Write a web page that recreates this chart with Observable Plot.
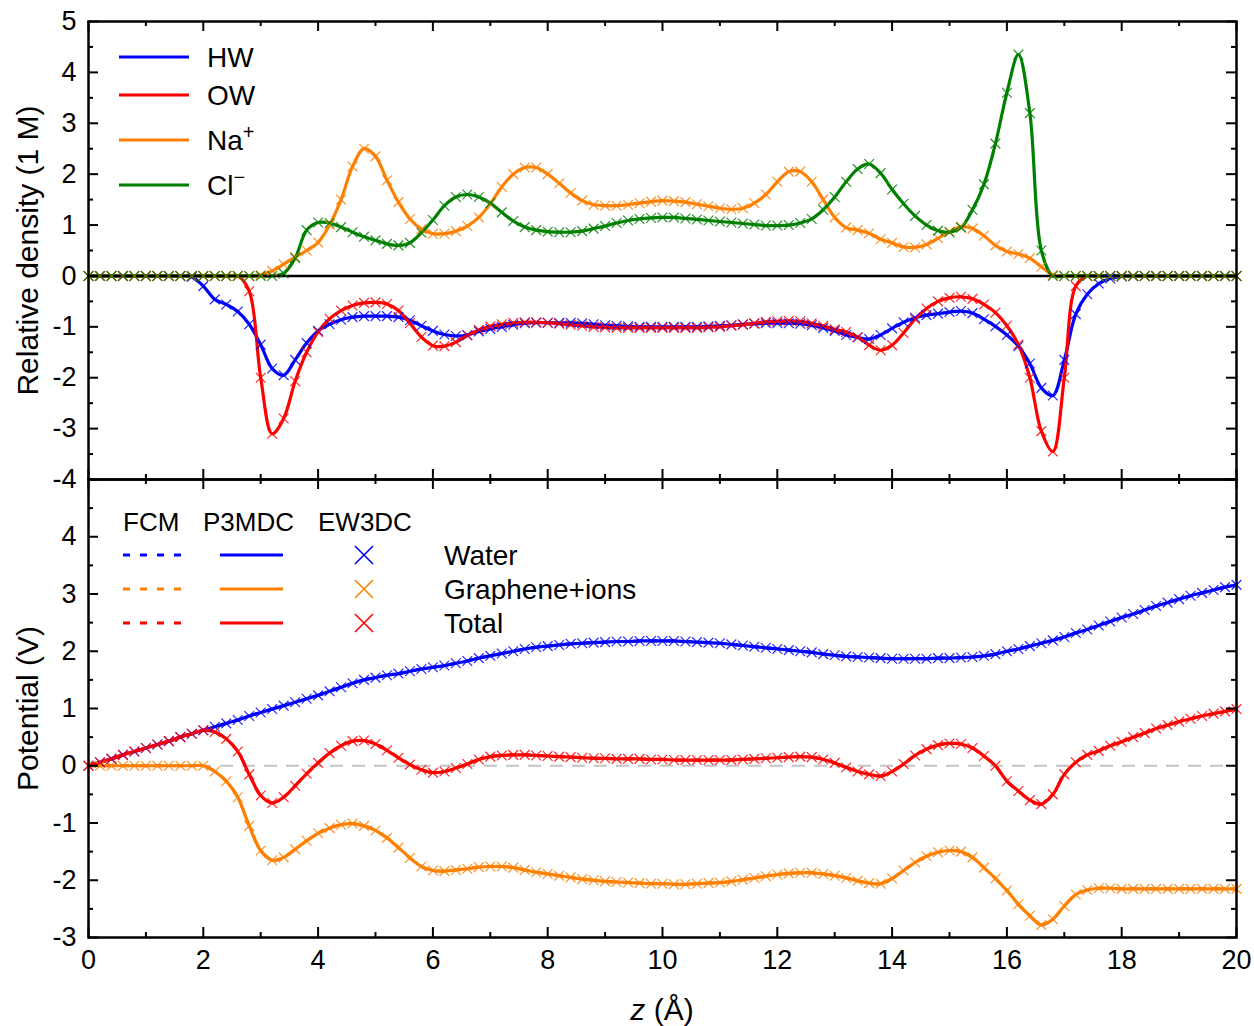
<!DOCTYPE html>
<html><head><meta charset="utf-8">
<script src="https://cdn.jsdelivr.net/npm/d3@7"></script>
<script src="https://cdn.jsdelivr.net/npm/@observablehq/plot@0.6"></script>
<style>
body{margin:0;background:#fff;}
#wrap{position:relative;width:1254px;height:1026px;font-family:"Liberation Sans",Arial,sans-serif;overflow:hidden;}
#xtitle{position:absolute;top:993px;left:662px;transform:translateX(-50%);font-size:30px;white-space:nowrap;line-height:34px;}
#legend{position:absolute;left:0;top:0;pointer-events:none;}
</style></head><body><div id="wrap"><div id="xtitle"><i>z</i> (Å)</div></div>
<script>
// ---- grid of z positions (Å) ----
const z = [0,0.2,0.4,0.6,0.8,1,1.2,1.4,1.6,1.8,2,2.2,2.4,2.6,2.8,3,3.2,3.4,3.6,3.8,4,4.2,4.4,4.6,4.8,5,5.2,5.4,5.6,5.8,6,6.2,6.4,6.6,6.8,7,7.2,7.4,7.6,7.8,8,8.2,8.4,8.6,8.8,9,9.2,9.4,9.6,9.8,10,10.2,10.4,10.6,10.8,11,11.2,11.4,11.6,11.8,12,12.2,12.4,12.6,12.8,13,13.2,13.4,13.6,13.8,14,14.2,14.4,14.6,14.8,15,15.2,15.4,15.6,15.8,16,16.2,16.4,16.6,16.8,17,17.2,17.4,17.6,17.8,18,18.2,18.4,18.6,18.8,19,19.2,19.4,19.6,19.8,20];

// ---- top panel: relative density (1 M) ----
const densHW = [0,0,0,0,0,0,0,0,0,-0.02,-0.2,-0.46,-0.56,-0.7,-0.95,-1.35,-1.82,-1.95,-1.65,-1.32,-1.08,-0.95,-0.86,-0.81,-0.79,-0.79,-0.79,-0.81,-0.87,-0.98,-1.08,-1.15,-1.18,-1.16,-1.09,-1.04,-1.0,-0.96,-0.93,-0.92,-0.92,-0.92,-0.92,-0.93,-0.95,-0.97,-0.98,-0.99,-1.0,-1.0,-1.0,-1.0,-1.0,-1.0,-0.99,-0.98,-0.97,-0.95,-0.94,-0.93,-0.93,-0.93,-0.94,-0.97,-1.02,-1.08,-1.16,-1.21,-1.24,-1.16,-1.03,-0.91,-0.82,-0.77,-0.74,-0.71,-0.69,-0.73,-0.85,-0.99,-1.16,-1.38,-1.72,-2.2,-2.35,-1.65,-0.75,-0.36,-0.15,-0.05,-0.01,0,0,0,0,0,0,0,0,0,0];
const densOW = [0,0,0,0,0,0,0,0,0,0,0,0,0,0,-0.3,-2.0,-3.1,-2.8,-2.07,-1.5,-1.1,-0.84,-0.68,-0.58,-0.53,-0.52,-0.55,-0.68,-0.93,-1.2,-1.37,-1.38,-1.3,-1.17,-1.06,-0.99,-0.95,-0.92,-0.91,-0.91,-0.92,-0.94,-0.96,-0.98,-1.0,-1.01,-1.02,-1.02,-1.02,-1.02,-1.02,-1.02,-1.02,-1.02,-1.01,-1.0,-0.98,-0.96,-0.93,-0.9,-0.89,-0.88,-0.89,-0.93,-0.98,-1.05,-1.1,-1.2,-1.36,-1.46,-1.36,-1.12,-0.85,-0.64,-0.5,-0.43,-0.41,-0.45,-0.56,-0.72,-0.98,-1.35,-2.0,-3.05,-3.45,-2.0,-0.2,0,0,0,0,0,0,0,0,0,0,0,0,0,0];
const densNa = [0,0,0,0,0,0,0,0,0,0,0,0,0,0,0,0.02,0.1,0.23,0.37,0.5,0.66,1.0,1.5,2.15,2.5,2.35,1.88,1.45,1.12,0.92,0.83,0.83,0.88,0.98,1.15,1.42,1.75,2.0,2.13,2.13,2.0,1.82,1.63,1.48,1.4,1.38,1.38,1.4,1.43,1.46,1.48,1.47,1.45,1.41,1.37,1.33,1.31,1.33,1.43,1.6,1.85,2.05,2.05,1.85,1.5,1.15,0.95,0.9,0.84,0.72,0.65,0.57,0.56,0.62,0.74,0.87,0.97,0.93,0.79,0.6,0.48,0.43,0.35,0.18,0.02,0,0,0,0,0,0,0,0,0,0,0,0,0,0,0,0];
const densCl = [0,0,0,0,0,0,0,0,0,0,0,0,0,0,0,0,0,0.05,0.35,0.9,1.05,1.04,0.96,0.86,0.77,0.7,0.63,0.6,0.65,0.85,1.1,1.38,1.55,1.6,1.55,1.43,1.25,1.08,0.96,0.9,0.87,0.86,0.86,0.88,0.93,0.98,1.04,1.09,1.12,1.14,1.15,1.15,1.13,1.11,1.09,1.07,1.05,1.03,1.01,0.99,0.99,1.0,1.04,1.12,1.3,1.55,1.85,2.1,2.2,2.02,1.7,1.42,1.18,1.0,0.89,0.86,0.95,1.3,1.8,2.6,3.6,4.35,3.2,0.5,0,0,0,0,0,0,0,0,0,0,0,0,0,0,0,0,0];

// ---- bottom panel: potential (V) ----
const potWater = [0,0.06,0.12,0.19,0.25,0.31,0.37,0.43,0.5,0.56,0.62,0.68,0.74,0.8,0.87,0.93,0.99,1.05,1.11,1.17,1.23,1.3,1.37,1.44,1.5,1.54,1.58,1.61,1.65,1.69,1.72,1.75,1.79,1.83,1.88,1.92,1.96,2.0,2.04,2.07,2.09,2.11,2.13,2.14,2.15,2.16,2.17,2.17,2.18,2.18,2.18,2.18,2.17,2.16,2.15,2.14,2.12,2.1,2.08,2.06,2.04,2.02,2.0,1.98,1.95,1.93,1.91,1.9,1.89,1.88,1.87,1.87,1.87,1.87,1.88,1.88,1.89,1.9,1.92,1.95,2.0,2.04,2.09,2.14,2.19,2.25,2.32,2.38,2.45,2.52,2.59,2.65,2.72,2.79,2.85,2.91,2.97,3.02,3.07,3.12,3.16];
const potGraphIons = [0,0,0,0,0,0,0,0,0,0,0,-0.1,-0.27,-0.55,-1.05,-1.48,-1.65,-1.6,-1.46,-1.31,-1.18,-1.09,-1.03,-1.01,-1.05,-1.13,-1.26,-1.43,-1.61,-1.76,-1.83,-1.84,-1.82,-1.8,-1.77,-1.76,-1.76,-1.78,-1.82,-1.86,-1.89,-1.92,-1.95,-1.98,-2.0,-2.02,-2.03,-2.04,-2.05,-2.06,-2.06,-2.07,-2.07,-2.06,-2.05,-2.04,-2.02,-1.99,-1.96,-1.93,-1.9,-1.88,-1.87,-1.87,-1.89,-1.92,-1.96,-2.01,-2.05,-2.06,-1.97,-1.83,-1.69,-1.58,-1.51,-1.48,-1.5,-1.6,-1.78,-1.97,-2.18,-2.42,-2.62,-2.78,-2.68,-2.45,-2.25,-2.17,-2.14,-2.14,-2.15,-2.15,-2.15,-2.15,-2.15,-2.15,-2.15,-2.15,-2.15,-2.15,-2.15];
const potTotal = [0,0.06,0.12,0.19,0.25,0.31,0.37,0.43,0.5,0.56,0.62,0.59,0.47,0.25,-0.15,-0.52,-0.65,-0.55,-0.35,-0.14,0.05,0.22,0.35,0.43,0.44,0.38,0.27,0.14,0.02,-0.07,-0.12,-0.1,-0.04,0.03,0.11,0.16,0.18,0.19,0.19,0.18,0.17,0.16,0.15,0.14,0.13,0.13,0.12,0.12,0.12,0.11,0.11,0.1,0.1,0.1,0.1,0.1,0.1,0.11,0.12,0.13,0.14,0.15,0.16,0.15,0.11,0.05,-0.03,-0.1,-0.15,-0.18,-0.1,0.03,0.18,0.29,0.36,0.39,0.38,0.31,0.17,0.0,-0.27,-0.44,-0.6,-0.67,-0.5,-0.15,0.06,0.19,0.26,0.35,0.42,0.5,0.57,0.65,0.71,0.77,0.82,0.87,0.91,0.95,0.99];

// ---- ticks ----
const xMajor = [0,2,4,6,8,10,12,14,16,18,20];
const xMinor = [1,3,5,7,9,11,13,15,17,19];
const yTopMajor = [-4,-3,-2,-1,0,1,2,3,4,5];
const yTopMinor = [-3.5,-2.5,-1.5,-0.5,0.5,1.5,2.5,3.5,4.5];
const yBotMajor = [-3,-2,-1,0,1,2,3,4,5];
const yBotLabels = [-3,-2,-1,0,1,2,3,4];
const yBotMinor = [-2.5,-1.5,-0.5,0.5,1.5,2.5,3.5,4.5];

const BLUE="#0000ff", RED="#ff0000", ORANGE="#ff8000", GREEN="#008000";
const W=1254, ML=88, MR=18, IH=458, IW=W-ML-MR;
const rows = arr => z.map((zz,i)=>({z:zz, v:arr[i]}));
const curve = "catmull-rom";

function frameTicks(yMaj, yMin){
  const L=10, S=5, o={stroke:"black", strokeWidth:2};
  return [
    Plot.tickX(xMajor,{x:d=>d, insetTop:IH-L, ...o}),
    Plot.tickX(xMajor,{x:d=>d, insetBottom:IH-L, ...o}),
    Plot.tickX(xMinor,{x:d=>d, insetTop:IH-S, ...o}),
    Plot.tickX(xMinor,{x:d=>d, insetBottom:IH-S, ...o}),
    Plot.tickY(yMaj,{y:d=>d, insetRight:IW-L, ...o}),
    Plot.tickY(yMaj,{y:d=>d, insetLeft:IW-L, ...o}),
    Plot.tickY(yMin,{y:d=>d, insetRight:IW-S, ...o}),
    Plot.tickY(yMin,{y:d=>d, insetLeft:IW-S, ...o})
  ];
}
const style = {fontFamily:"'Liberation Sans', Arial, sans-serif", fontSize:"27px", background:"transparent", overflow:"visible", color:"black"};

function seriesMarks(arr, color, dotted){
  const d = rows(arr);
  const m = [];
  if (dotted) m.push(Plot.line(d,{x:"z", y:"v", stroke:color, strokeWidth:3, strokeDasharray:"7,10", curve}));
  m.push(Plot.line(d,{x:"z", y:"v", stroke:color, strokeWidth:3.2, curve}));
  return m;
}
function markerMarks(arr, color){
  return Plot.dot(rows(arr),{x:"z", y:"v", symbol:"times", r:4.5, stroke:color, strokeWidth:1.2, strokeOpacity:0.85});
}

const topPlot = Plot.plot({
  width:W, height:IH+41, marginTop:21, marginBottom:20, marginLeft:ML, marginRight:MR,
  style,
  x:{domain:[0,20], axis:null},
  y:{domain:[-4,5], axis:null},
  marks:[
    ...seriesMarks(densHW, BLUE),
    ...seriesMarks(densOW, RED),
    ...seriesMarks(densNa, ORANGE),
    ...seriesMarks(densCl, GREEN),
    Plot.ruleY([0],{stroke:"black", strokeWidth:2.5}),
    markerMarks(densHW, BLUE),
    markerMarks(densOW, RED),
    markerMarks(densNa, ORANGE),
    markerMarks(densCl, GREEN),
    ...frameTicks(yTopMajor, yTopMinor),
    Plot.axisY({ticks:yTopMajor, tickSize:0, tickPadding:12, tickFormat:d=>String(d), label:null}),
    Plot.text(["Relative density (1 M)"],{frameAnchor:"left", textAnchor:"middle", lineAnchor:"middle", dx:-60, rotate:-90, text:d=>d, fontSize:30}),
    Plot.frame({stroke:"black", strokeWidth:2.5})
  ]
});

const botPlot = Plot.plot({
  width:W, height:IH+109, marginTop:20, marginBottom:89, marginLeft:ML, marginRight:MR,
  style,
  x:{domain:[0,20], axis:null},
  y:{domain:[-3,5], axis:null},
  marks:[
    Plot.ruleY([0],{stroke:"#c4c4c4", strokeWidth:2, strokeDasharray:"13,9"}),
    ...seriesMarks(potWater, BLUE, true),
    ...seriesMarks(potGraphIons, ORANGE, true),
    ...seriesMarks(potTotal, RED, true),
    markerMarks(potWater, BLUE),
    markerMarks(potGraphIons, ORANGE),
    markerMarks(potTotal, RED),
    ...frameTicks(yBotMajor, yBotMinor),
    Plot.axisY({ticks:yBotLabels, tickSize:0, tickPadding:12, tickFormat:d=>String(d), label:null}),
    Plot.axisX({ticks:xMajor, tickSize:0, tickPadding:12, tickFormat:d=>String(d), label:null}),
    Plot.text(["Potential (V)"],{frameAnchor:"left", textAnchor:"middle", lineAnchor:"middle", dx:-60, rotate:-90, text:d=>d, fontSize:30}),
    Plot.frame({stroke:"black", strokeWidth:2.5})
  ]
});

const wrap = document.getElementById("wrap");
topPlot.style.position="absolute"; topPlot.style.left="0px"; topPlot.style.top="0px";
botPlot.style.position="absolute"; botPlot.style.left="0px"; botPlot.style.top="459px";
wrap.appendChild(topPlot);
wrap.appendChild(botPlot);

// ---- legends ----
const topLegend = [
  {name:"HW", color:BLUE, y:57},
  {name:"OW", color:RED, y:95},
  {name:"Na", sup:"+", color:ORANGE, y:140},
  {name:"Cl", sup:"\u2212", color:GREEN, y:185}
];
const botLegend = [
  {name:"Water", color:BLUE, y:555},
  {name:"Graphene+ions", color:ORANGE, y:589},
  {name:"Total", color:RED, y:623}
];
const methods = [{name:"FCM", x:123},{name:"P3MDC", x:203},{name:"EW3DC", x:318}];
const lg = d3.create("svg").attr("id","legend").attr("width",W).attr("height",1026)
  .attr("font-family","'Liberation Sans', Arial, sans-serif");
topLegend.forEach(d=>{
  lg.append("line").attr("x1",119).attr("x2",189).attr("y1",d.y).attr("y2",d.y).attr("stroke",d.color).attr("stroke-width",3);
  const t = lg.append("text").attr("x",207).attr("y",d.y).attr("dy","0.36em").attr("font-size",28).text(d.name);
  if (d.sup) t.append("tspan").attr("dy","-0.55em").attr("font-size",20).text(d.sup);
});
methods.forEach(m=>{
  lg.append("text").attr("x",m.x).attr("y",522).attr("dy","0.36em").attr("font-size",26).text(m.name);
});
botLegend.forEach(d=>{
  lg.append("line").attr("x1",123).attr("x2",183).attr("y1",d.y).attr("y2",d.y).attr("stroke",d.color).attr("stroke-width",3).attr("stroke-dasharray","7,10");
  lg.append("line").attr("x1",220).attr("x2",283).attr("y1",d.y).attr("y2",d.y).attr("stroke",d.color).attr("stroke-width",3);
  lg.append("path").attr("d",`M${364-9},${d.y-9}L${364+9},${d.y+9}M${364-9},${d.y+9}L${364+9},${d.y-9}`).attr("stroke",d.color).attr("stroke-width",1.6);
  lg.append("text").attr("x",444).attr("y",d.y).attr("dy","0.36em").attr("font-size",28).text(d.name);
});
wrap.appendChild(lg.node());
</script></body></html>
